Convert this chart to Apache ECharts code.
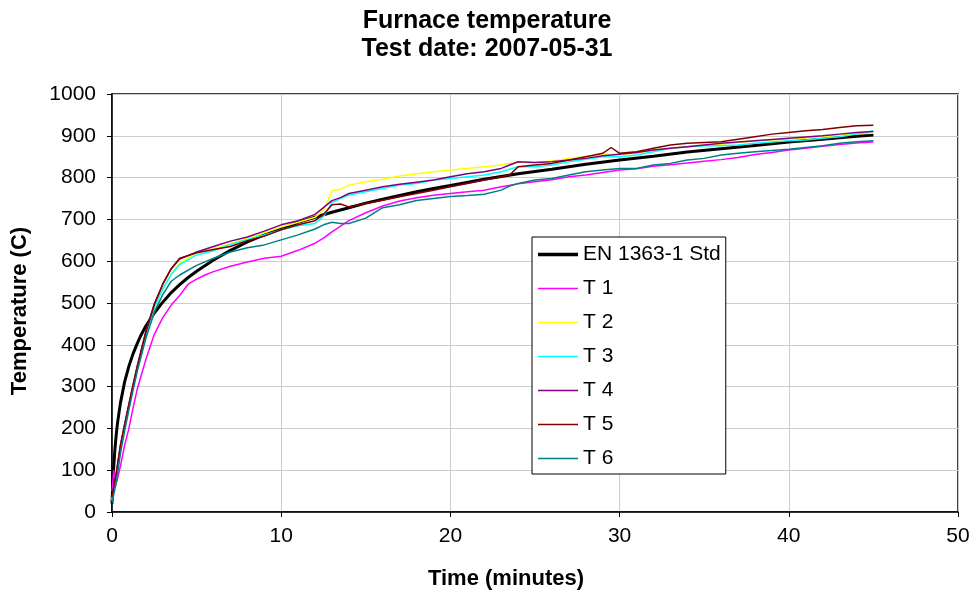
<!DOCTYPE html>
<html>
<head>
<meta charset="utf-8">
<script src="https://cdn.jsdelivr.net/npm/echarts@6/dist/echarts.min.js"></script>
<style>
html,body{margin:0;padding:0;background:#fff;}
#chart{width:975px;height:599px;}
</style>
</head>
<body>
<div id="chart"></div>
<script>
// ---- Data ----
const seriesNames = ['EN 1363-1 Std', 'T 1', 'T 2', 'T 3', 'T 4', 'T 5', 'T 6'];

const stdTime = [0,0.0833,0.1667,0.25,0.3333,0.5,0.75,1,1.25,1.5,1.75,2,2.5,3,3.5,4,4.5,5,6,7,8,9,10,11,12,13,14,15,16,17,18,19,20,22,24,26,28,30,32,34,36,38,40,42,44,45];
const stdTemp = [20,97,147,185,215,261,312,349,379,404,426,445,476,502,525,544,561,576,603,626,646,663,678,693,705,717,728,739,748,757,766,774,781,796,809,820,832,842,851,861,869,877,885,892,899,902];

const t1Time = [0,0.1,0.2,0.3,0.5,0.75,1,1.25,1.5,2,2.5,3,3.5,4,4.5,5,5.5,6,7,8,9,10,11,12,12.5,13,14,15,16,17,18,19,20,21,22,23,24,25,26,27,28,29,30,31,32,33,34,35,36,37,38,39,40,41,42,43,44,45];
const t1Temp = [50,100,65,75,110,160,200,250,295,365,425,465,495,518,545,557,567,575,588,598,607,612,626,643,655,670,697,716,732,744,752,758,762,766,770,778,785,790,795,802,806,812,818,821,827,831,835,839,843,848,855,860,866,870,875,879,883,885];

const tTime = [0,0.25,0.5,0.75,1,1.25,1.5,2,2.5,3,3.5,4,5,6,7,8,9,10,11,12,12.5,13,13.5,14,15,16,17,18,19,20,21,22,23,23.5,24,25,26,27,28,29,29.5,30,31,32,33,34,35,36,37,38,39,40,41,42,43,44,45];
const t2Temp = [30,85,155,205,252,300,345,425,490,535,570,595,620,630,642,655,668,682,693,705,722,768,772,782,790,796,804,809,814,818,822,826,830,834,836,836,840,846,850,854,855,856,858,866,870,874,878,880,884,888,890,892,895,898,902,905,906];
const t3Temp = [28,82,150,200,250,298,343,423,488,533,568,592,615,625,640,652,663,675,685,690,707,740,750,758,766,774,782,786,794,798,802,806,814,820,826,826,830,838,844,850,850,850,854,862,870,874,876,876,878,882,885,888,890,894,898,904,912];
const t4Temp = [35,92,160,210,258,305,350,432,498,545,582,605,622,635,648,658,672,687,697,712,728,745,752,762,770,778,784,789,794,802,809,814,822,830,838,836,838,842,846,852,854,856,860,866,870,874,878,882,885,888,891,894,897,900,904,908,910];
const t5Temp = [35,92,160,210,258,305,350,430,496,545,582,607,620,628,635,649,660,675,687,697,712,735,737,730,738,746,754,762,770,778,786,794,802,806,826,830,834,842,850,858,872,858,862,870,878,882,884,886,892,898,904,908,912,915,920,924,925];
const t6Temp = [22,70,140,195,245,292,338,415,478,520,552,567,590,607,622,632,639,651,663,677,687,693,690,690,703,728,735,745,750,755,757,760,770,780,786,794,798,806,814,818,820,822,822,830,834,842,846,854,858,862,865,868,872,876,882,886,888];

const seriesColors = ['#000000', '#FF00FF', '#FFFF00', '#00FFFF', '#800080', '#800000', '#008080'];

function pairs(xs, ys) { return xs.map((x, i) => [x, ys[i]]); }

const seriesData = [
  pairs(stdTime, stdTemp),
  pairs(t1Time, t1Temp),
  pairs(tTime, t2Temp),
  pairs(tTime, t3Temp),
  pairs(tTime, t4Temp),
  pairs(tTime, t5Temp),
  pairs(tTime, t6Temp)
];

const FONT = '"Liberation Sans", Arial, sans-serif';

const chart = echarts.init(document.getElementById('chart'), null, {renderer: 'canvas'});
chart.setOption({
  animation: false,
  backgroundColor: '#ffffff',
  title: {
    text: 'Furnace temperature\nTest date: 2007-05-31',
    left: 482,
    top: 2,
    textAlign: 'center',
    textStyle: {fontFamily: FONT, fontWeight: 'bold', fontSize: 25, lineHeight: 28, color: '#000'}
  },
  grid: {
    left: 112, top: 94, right: 17, bottom: 87,
    show: true, borderColor: '#000', borderWidth: 1.5, backgroundColor: 'transparent'
  },
  legend: {
    orient: 'vertical',
    left: 532, top: 237,
    padding: [7, 5, 5, 6],
    backgroundColor: '#fff',
    borderColor: '#000', borderWidth: 1,
    itemWidth: 40, itemHeight: 14, itemGap: 13,
    symbolKeepAspect: true,
    textStyle: {fontFamily: FONT, fontSize: 21, lineHeight: 21, color: '#000'},
    data: seriesNames.map((n, i) => ({
      name: n,
      icon: i === 0 ? 'path://M0,0H40V3.5H0Z' : 'path://M0,0H40V1.5H0Z'
    }))
  },
  xAxis: {
    type: 'value', min: 0, max: 50, interval: 10,
    name: 'Time (minutes)', nameLocation: 'middle', nameGap: 56,
    nameTextStyle: {fontFamily: FONT, fontWeight: 'bold', fontSize: 22, color: '#000', padding: [0, 58, 0, 0]},
    axisLine: {lineStyle: {color: '#000', width: 1.5}},
    axisTick: {show: true, inside: false, length: 5, lineStyle: {color: '#000'}},
    axisLabel: {fontFamily: FONT, fontSize: 21, color: '#000', margin: 14},
    splitLine: {show: true, lineStyle: {color: '#cccccc', width: 1}}
  },
  yAxis: {
    type: 'value', min: 0, max: 1000, interval: 100,
    name: 'Temperature (C)', nameLocation: 'middle', nameGap: 81, nameRotate: 90,
    nameTextStyle: {fontFamily: FONT, fontWeight: 'bold', fontSize: 22, color: '#000', padding: [0, 16, 0, 0]},
    axisLine: {show: true, lineStyle: {color: '#000', width: 1.5}},
    axisTick: {show: true, inside: false, length: 5, lineStyle: {color: '#000'}},
    axisLabel: {fontFamily: FONT, fontSize: 21, color: '#000', margin: 16, formatter: v => String(v)},
    splitLine: {show: true, lineStyle: {color: '#cccccc', width: 1}}
  },
  series: seriesNames.map((name, i) => ({
    name: name,
    type: 'line',
    data: seriesData[i],
    symbol: 'none',
    showSymbol: false,
    smooth: false,
    z: i === 0 ? 2 : 3,
    color: seriesColors[i],
    lineStyle: {color: seriesColors[i], width: i === 0 ? 3 : 1.5}
  }))
});
</script>
</body>
</html>
